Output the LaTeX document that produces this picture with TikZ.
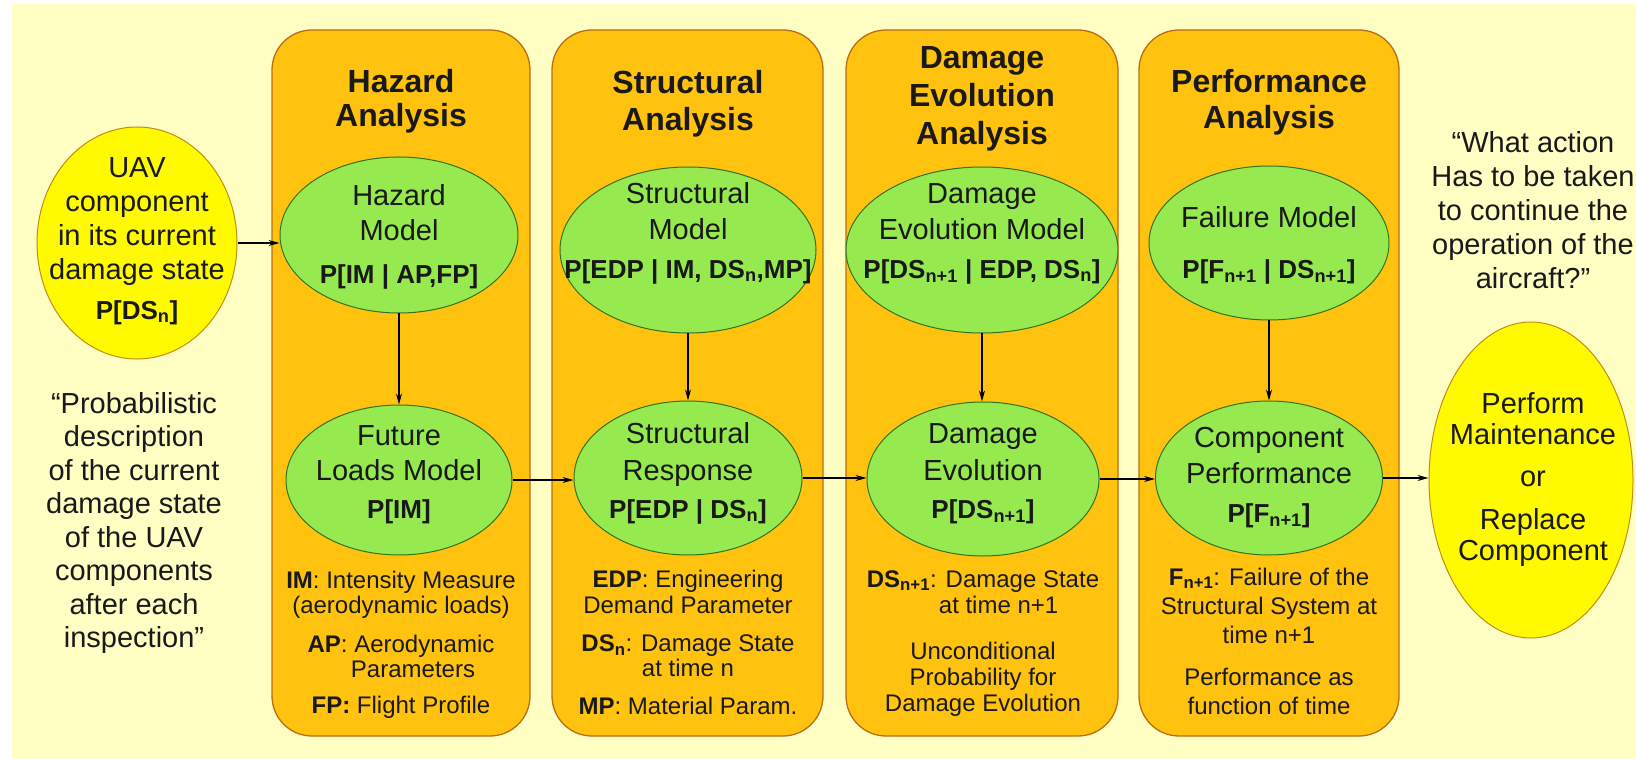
\documentclass[tikz,border=0pt]{standalone}
\usepackage{fontspec}
\setmainfont{Liberation Sans}
\usetikzlibrary{shapes.geometric,arrows.meta}
\definecolor{bgc}{RGB}{255,255,196}
\definecolor{panelc}{RGB}{255,194,14}
\definecolor{paneld}{RGB}{185,110,20}
\definecolor{greenc}{RGB}{150,234,80}
\definecolor{greend}{RGB}{50,115,30}
\definecolor{yelc}{RGB}{255,250,0}
\definecolor{yeld}{RGB}{195,140,20}
\definecolor{txt}{RGB}{25,25,25}
\newcommand{\ffor}{\fontsize{26}{34}\selectfont\bfseries}
\begin{document}
\begin{tikzpicture}[x=1pt,y=-1pt,
  panel/.style={rectangle, draw=paneld, fill=panelc, line width=1.3pt, rounded corners=40pt, inner sep=0pt},
  gell/.style={ellipse, draw=greend, fill=greenc, line width=1pt, inner sep=0pt},
  yell/.style={ellipse, draw=yeld, fill=yelc, line width=1pt, inner sep=0pt},
  arr/.style={-{Stealth[length=11pt,width=6pt]}, line width=1.1pt, black},
  blk/.style={anchor=north, inner sep=0pt, align=center, text=txt},
  ttl/.style={blk, font=\fontsize{32}{#1}\selectfont\bfseries},
  etx/.style={blk, font=\fontsize{29}{#1}\selectfont},
  dsc/.style={blk, font=\fontsize{24}{#1}\selectfont}
]
\useasboundingbox (0,0) rectangle (1636,759);
\fill[white] (0,0) rectangle (1636,759);
\fill[bgc] (12,4) rectangle (1636,759);

% panels
\node[panel, minimum width=258pt, minimum height=706pt] (p1) at (401,383) {};
\node[panel, minimum width=271pt, minimum height=706pt] (p2) at (687.5,383) {};
\node[panel, minimum width=272pt, minimum height=706pt] (p3) at (982,383) {};
\node[panel, minimum width=260pt, minimum height=706pt] (p4) at (1269,383) {};

% titles
\node[ttl=32] (t1) at (401,69.6) {\strut Hazard\\Analysis};
\node[ttl=37] (t2) at (688,67.1) {\strut Structural\\Analysis};
\node[ttl=38] (t3) at (982,41.4) {\strut Damage\\Evolution\\Analysis};
\node[ttl=36] (t4) at (1269,66.8) {\strut Performance\\Analysis};

% ellipses
\node[yell, minimum width=200pt, minimum height=232pt] (uav) at (137,243) {};
\node[gell, minimum width=238pt, minimum height=156pt] (hm) at (399,235) {};
\node[gell, minimum width=256pt, minimum height=166pt] (sm) at (688,250) {};
\node[gell, minimum width=272pt, minimum height=166pt] (dm) at (982,250) {};
\node[gell, minimum width=240pt, minimum height=154pt] (fm) at (1269,243) {};
\node[gell, minimum width=226pt, minimum height=150pt] (fl) at (399,480) {};
\node[gell, minimum width=228pt, minimum height=154pt] (sr) at (688,478) {};
\node[gell, minimum width=232pt, minimum height=154pt] (de) at (983,479) {};
\node[gell, minimum width=227pt, minimum height=154pt] (cp) at (1269,478) {};
\node[yell, minimum width=204pt, minimum height=316pt] (act) at (1531,480) {};

% ellipse texts
\node[etx=34] (uavt) at (137,153.2) {\strut UAV\\component\\in its current\\damage state\\[6pt]{\ffor P[DS\textsubscript{n}]}};
\node[etx=35] (hmt) at (399,180.5) {\strut Hazard\\Model\\[8pt]{\ffor P[IM | AP,FP]}};
\node[etx=36] (smt) at (688,177.8) {\strut Structural\\Model\\[3pt]{\ffor P[EDP | IM, DS\textsubscript{n},MP]}};
\node[etx=36] (dmt) at (982,177.8) {\strut Damage\\Evolution Model\\[3pt]{\ffor P[DS\textsubscript{n+1} | EDP, DS\textsubscript{n}]}};
\node[etx=35] (fmt) at (1269,202.5) {\strut Failure Model\\[16pt]{\ffor P[F\textsubscript{n+1} | DS\textsubscript{n+1}]}};
\node[etx=35] (flt) at (399,420.5) {\strut Future\\Loads Model\\[3pt]{\ffor P[IM]}};
\node[etx=37] (srt) at (688,417.1) {\strut Structural\\Response\\[1pt]{\ffor P[EDP | DS\textsubscript{n}]}};
\node[etx=37] (det) at (983,417.1) {\strut Damage\\Evolution\\[1pt]{\ffor P[DS\textsubscript{n+1}]}};
\node[etx=36] (cpt) at (1269,421.8) {\strut Component\\Performance\\[3pt]{\ffor P[F\textsubscript{n+1}]}};
\node[etx=31] (actt) at (1533,391.3) {\strut Perform\\Maintenance\\[11pt]or\\[12pt]Replace\\Component};

% quotes
\node[etx=33.5] (q1) at (134,389.6) {\strut “Probabilistic\\description\\of the current\\damage state\\of the UAV\\components\\after each\\inspection”};
\node[etx=34] (q2) at (1533,128.2) {\strut “What action\\Has to be taken\\to continue the\\operation of the\\aircraft?”};

% descriptions
\node[dsc=25] (d1) at (401,570.5) {\strut\textbf{IM}: Intensity Measure\\(aerodynamic loads)\\[14pt]\textbf{AP}: Aerodynamic\\\hspace*{1em}Parameters\\[11pt]\textbf{FP:} Flight Profile};
\node[dsc=24.5] (d2) at (688,569.9) {\strut\textbf{EDP}: Engineering\\Demand Parameter\\[14pt]\textbf{DS\textsubscript{n}}: Damage State\\at time n\\[13.5pt]\textbf{MP}: Material Param.};
\node[dsc=26] (d3) at (983,568.8) {\strut\textbf{DS\textsubscript{n+1}}: Damage State\\\hspace*{1.3em}at time n+1\\[20pt]Unconditional\\Probability for\\Damage Evolution};
\node[dsc=29] (d4) at (1269,564.7) {\strut\textbf{F\textsubscript{n+1}}: Failure of the\\Structural System at\\time n+1\\[13pt]Performance as\\function of time};

% connectors
\draw[arr] (uav.east) -- (uav.east -| hm.west);
\draw[arr] (hm) -- (fl);
\draw[arr] (sm) -- (sr);
\draw[arr] (dm.south) -- (dm.south |- de.north);
\draw[arr] (fm) -- (cp);
\draw[arr] (fl.east) -- (fl.east -| sr.west);
\draw[arr] (sr.east) -- (sr.east -| de.west);
\draw[arr] (de.east) -- (de.east -| cp.west);
\draw[arr] (cp.east) -- (cp.east -| act.west);
\end{tikzpicture}
\end{document}
